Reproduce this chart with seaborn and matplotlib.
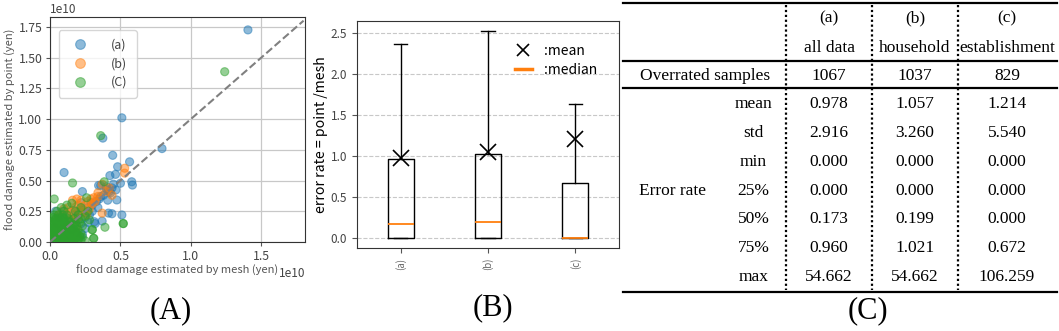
import numpy as np
import pandas as pd
import matplotlib
matplotlib.use('Agg')
import matplotlib.pyplot as plt
import seaborn as sns
from matplotlib.lines import Line2D

plt.rcParams['font.family'] = ['Noto Sans CJK JP', 'DejaVu Sans']

# scatter points, units of 1e10 yen: (mesh, point)
pts_a = [(1.405, 1.725), (0.51, 1.01), (0.795, 0.76), (0.375, 0.845), (0.445, 0.705),
         (0.10, 0.565), (0.565, 0.652), (0.48, 0.612), (0.425, 0.54), (0.465, 0.55),
         (0.58, 0.49), (0.585, 0.463), (0.345, 0.46), (0.50, 0.478), (0.36, 0.46),
         (0.40, 0.45), (0.467, 0.423), (0.474, 0.342), (0.41, 0.34), (0.23, 0.41),
         (0.415, 0.235), (0.51, 0.22), (0.315, 0.165), (0.22, 0.32), (0.09, 0.25),
         (0.36, 0.37), (0.29, 0.32), (0.40, 0.43), (0.215, 0.04), (0.20, 0.18),
         (0.25, 0.11), (0.04, 0.25), (0.32, 0.15), (0.37, 0.17), (0.44, 0.23),
         (0.27, 0.28), (0.30, 0.30), (0.33, 0.33), (0.35, 0.35), (0.38, 0.38),
         (0.42, 0.41), (0.44, 0.44), (0.43, 0.40), (0.45, 0.47), (0.41, 0.42),
         (0.05, 0.05), (0.08, 0.10), (0.12, 0.14), (0.15, 0.10), (0.18, 0.20),
         (0.20, 0.22), (0.22, 0.15), (0.25, 0.20), (0.26, 0.24), (0.12, 0.22),
         (0.06, 0.20), (0.03, 0.12), (0.14, 0.06), (0.10, 0.02), (0.28, 0.22),
         (0.24, 0.26), (0.17, 0.26), (0.30, 0.25), (0.19, 0.08), (0.23, 0.06),
         (0.34, 0.28), (0.27, 0.16)]
pts_b = [(0.53, 0.60), (0.53, 0.56), (0.37, 0.47), (0.42, 0.44), (0.40, 0.41),
         (0.44, 0.38), (0.16, 0.34), (0.19, 0.35), (0.29, 0.35), (0.31, 0.36),
         (0.34, 0.37), (0.37, 0.235), (0.10, 0.27), (0.22, 0.34), (0.34, 0.40),
         (0.08, 0.20), (0.12, 0.22), (0.15, 0.25), (0.18, 0.28), (0.20, 0.30),
         (0.25, 0.30), (0.27, 0.33), (0.23, 0.27), (0.14, 0.18), (0.05, 0.15),
         (0.10, 0.12), (0.20, 0.20), (0.28, 0.27), (0.30, 0.31), (0.17, 0.22),
         (0.24, 0.24), (0.13, 0.28), (0.06, 0.22), (0.32, 0.33), (0.21, 0.25),
         (0.16, 0.18), (0.19, 0.12), (0.26, 0.22)]
pts_c = [(1.24, 1.385), (0.36, 0.865), (0.16, 0.48), (0.03, 0.35), (0.385, 0.49),
         (0.26, 0.36), (0.39, 0.12), (0.52, 0.15), (0.52, 0.15), (0.30, 0.10),
         (0.30, 0.10), (0.31, 0.03), (0.31, 0.03), (0.155, 0.315), (0.12, 0.30),
         (0.22, 0.28), (0.27, 0.25), (0.25, 0.21), (0.28, 0.18),
         (0.01, 0.01), (0.04, 0.01), (0.07, 0.01), (0.10, 0.01), (0.13, 0.01),
         (0.16, 0.01), (0.19, 0.01), (0.22, 0.01), (0.25, 0.01),
         (0.02, 0.04), (0.05, 0.04), (0.08, 0.04), (0.11, 0.04), (0.14, 0.04),
         (0.17, 0.04), (0.20, 0.04), (0.23, 0.04),
         (0.01, 0.07), (0.04, 0.07), (0.07, 0.07), (0.10, 0.07), (0.13, 0.07),
         (0.16, 0.07), (0.19, 0.07), (0.22, 0.07),
         (0.02, 0.10), (0.05, 0.10), (0.08, 0.10), (0.11, 0.10), (0.14, 0.10),
         (0.17, 0.10), (0.20, 0.10),
         (0.01, 0.13), (0.04, 0.13), (0.07, 0.13), (0.10, 0.13), (0.13, 0.13),
         (0.16, 0.13), (0.19, 0.13), (0.23, 0.13),
         (0.02, 0.16), (0.05, 0.16), (0.08, 0.16), (0.11, 0.16), (0.14, 0.16),
         (0.18, 0.16), (0.21, 0.16),
         (0.01, 0.19), (0.04, 0.19), (0.07, 0.19), (0.10, 0.19), (0.13, 0.19),
         (0.17, 0.19), (0.22, 0.19),
         (0.03, 0.22), (0.06, 0.22), (0.09, 0.22), (0.12, 0.22), (0.20, 0.22),
         (0.05, 0.25), (0.10, 0.25), (0.18, 0.25), (0.08, 0.28),
         (0.02, 0.02), (0.06, 0.03), (0.09, 0.02), (0.12, 0.03), (0.15, 0.02),
         (0.18, 0.03), (0.03, 0.06), (0.06, 0.06), (0.09, 0.06), (0.12, 0.06),
         (0.15, 0.06), (0.02, 0.09), (0.06, 0.09), (0.09, 0.09), (0.12, 0.09),
         (0.15, 0.09), (0.03, 0.12), (0.06, 0.12), (0.09, 0.12), (0.12, 0.12),
         (0.03, 0.15), (0.07, 0.15), (0.10, 0.16), (0.04, 0.18), (0.08, 0.18),
         (0.01, 0.03), (0.04, 0.02), (0.08, 0.01), (0.11, 0.02), (0.14, 0.03),
         (0.17, 0.02), (0.20, 0.02), (0.21, 0.05), (0.18, 0.06), (0.18, 0.09),
         (0.01, 0.05), (0.05, 0.07), (0.08, 0.08), (0.11, 0.08), (0.14, 0.08),
         (0.02, 0.11), (0.05, 0.11), (0.08, 0.11), (0.11, 0.11), (0.14, 0.12),
         (0.16, 0.11), (0.17, 0.14), (0.01, 0.16), (0.05, 0.14), (0.08, 0.14),
         (0.11, 0.14), (0.13, 0.17), (0.02, 0.20), (0.06, 0.17), (0.09, 0.20)]
scatter_labels = ['(a)', '(b)', '(C)']

# box statistics of error rate
groups = ['(a)', '(b)', '(c)']
q1 = [0.0, 0.0, 0.0]
medians = [0.173, 0.199, 0.000]
q3 = [0.960, 1.021, 0.672]
whis_hi = [2.37, 2.53, 1.64]
means = [0.978, 1.057, 1.214]

# table
col_heads = ['(a)', '(b)', '(c)']
col_names = ['all data', 'household', 'establishment']
overrated = [1067, 1037, 829]
stat_names = ['mean', 'std', 'min', '25%', '50%', '75%', 'max']
stats_a = [0.978, 2.916, 0.000, 0.000, 0.173, 0.960, 54.662]
stats_b = [1.057, 3.260, 0.000, 0.000, 0.199, 1.021, 54.662]
stats_c = [1.214, 5.540, 0.000, 0.000, 0.000, 0.672, 106.259]

W, H = 1059, 331
fig = plt.figure(figsize=(W / 100, H / 100), dpi=100)
txt = '#444444'

# (A) scatter
axa = fig.add_axes([50 / W, 1 - 242 / H, 255 / W, 225 / H])
frames = []
for lab, pts in zip(scatter_labels, [pts_a, pts_b, pts_c]):
    d = pd.DataFrame(pts, columns=['mesh', 'point'])
    d['mesh'] *= 1e10
    d['point'] *= 1e10
    d['group'] = lab
    frames.append(d)
df = pd.concat(frames, ignore_index=True)
sns.scatterplot(data=df, x='mesh', y='point', hue='group', palette='tab10',
                alpha=0.5, s=34, edgecolor='face', linewidth=0.8, ax=axa, zorder=3)
axa.plot([0, 1.8e10], [0, 1.8e10], ls='--', color='gray', lw=1.5, zorder=4)
axa.set_xlim(0, 1.81e10)
axa.set_ylim(0, 1.83e10)
axa.set_xticks([0, 0.5e10, 1.0e10, 1.5e10])
axa.set_yticks(np.arange(0, 1.76e10, 0.25e10))
axa.grid(True, color='#c8c8c8', lw=0.9)
axa.set_axisbelow(True)
axa.tick_params(labelsize=8.8, labelcolor=txt, color='#555555', length=3, pad=2.5)
for ot in [axa.xaxis.get_offset_text(), axa.yaxis.get_offset_text()]:
    ot.set_fontsize(8.5)
    ot.set_color(txt)
axa.set_xlabel('flood damage estimated by mesh (yen)', fontsize=8, color='#555555', labelpad=2)
axa.set_ylabel('flood damage estimated by point (yen)', fontsize=8, color='#555555', labelpad=2)
leg = axa.legend(loc='upper left', fontsize=9, labelspacing=0.45, handletextpad=1.5,
                 borderpad=0.7, markerscale=1.2, frameon=True, edgecolor='#cccccc',
                 fancybox=True, bbox_to_anchor=(0.01, 0.97))
for t in leg.get_texts():
    t.set_color(txt)
for sp in axa.spines.values():
    sp.set_color('#333333')

# (B) box plot
axb = fig.add_axes([357 / W, 1 - 248 / H, 262 / W, 227 / H])
bstats = []
for g, a, m, c, hi, mu in zip(groups, q1, medians, q3, whis_hi, means):
    bstats.append({'label': g, 'q1': a, 'med': m, 'q3': c, 'whislo': a,
                   'whishi': hi, 'mean': mu, 'fliers': []})
axb.bxp(bstats, positions=[1, 2, 3], widths=0.3, showmeans=True, showfliers=False,
        boxprops=dict(color='black', lw=1.0), whiskerprops=dict(color='black', lw=1.0),
        capprops=dict(color='black', lw=1.0), medianprops=dict(color='#ff7f0e', lw=1.3),
        meanprops=dict(marker='x', markeredgecolor='black', markersize=11, mew=1.2))
axb.set_xlim(0.5, 3.5)
axb.set_ylim(-0.12, 2.65)
axb.yaxis.grid(True, ls='--', color='#c8c8c8', lw=0.8)
axb.set_axisbelow(True)
axb.tick_params(axis='y', labelsize=8.5, labelcolor=txt, color='#555555')
axb.tick_params(axis='x', labelsize=7, labelcolor='#666666', color='#555555', labelrotation=90)
axb.set_ylabel('error rate = point /mesh', fontsize=10.2, color='black', labelpad=2)
handles = [Line2D([], [], marker='x', color='black', ls='none', markersize=9, mew=1.2),
           Line2D([], [], color='#ff7f0e', lw=2.5)]
axb.legend(handles, [':mean', ':median'], loc='upper right', frameon=False,
           fontsize=10, handlelength=1.2, handletextpad=0.9, labelspacing=0.35,
           bbox_to_anchor=(0.965, 0.955))
for sp in axb.spines.values():
    sp.set_color('#333333')

# (C) table and panel captions
ov = fig.add_axes([0, 0, 1, 1], zorder=-1)
ov.set_xlim(0, W)
ov.set_ylim(H, 0)
ov.axis('off')
serif = 'Liberation Serif'
fs = 12.5
for y in [3.3, 61, 88.3, 291.7]:
    ov.plot([623, 1057], [y, y], color='black', lw=1.6)
for x in [786, 871.7, 958.3]:
    ov.plot([x, x], [5, 290], color='black', lw=1.6, ls=(0, (1, 1.2)))
col_x = [829, 915, 1007]
for x, h, n, v in zip(col_x, col_heads, col_names, overrated):
    ov.text(x, 18.3, h, ha='center', va='center', fontsize=fs, family=serif)
    ov.text(x, 47.7, n, ha='center', va='center', fontsize=fs, family=serif)
    ov.text(x, 76, str(v), ha='center', va='center', fontsize=fs, family=serif)
ov.text(705, 76, 'Overrated samples', ha='center', va='center', fontsize=fs, family=serif)
row_y = [104, 132.7, 161.7, 190.7, 219.3, 248.3, 277.3]
for i, (y, nm) in enumerate(zip(row_y, stat_names)):
    ov.text(753.5, y, nm, ha='center', va='center', fontsize=fs, family=serif)
    for x, col in zip(col_x, [stats_a, stats_b, stats_c]):
        ov.text(x, y, f'{col[i]:.3f}', ha='center', va='center', fontsize=fs, family=serif)
ov.text(672.7, 190.7, 'Error rate', ha='center', va='center', fontsize=fs, family=serif)

for x, y, lab in [(171, 311, '(A)'), (493, 308, '(B)'), (868, 311, '(C)')]:
    ov.text(x, y, lab, ha='center', va='center', fontsize=22, family=serif)

fig.savefig('out.png', dpi=100)
